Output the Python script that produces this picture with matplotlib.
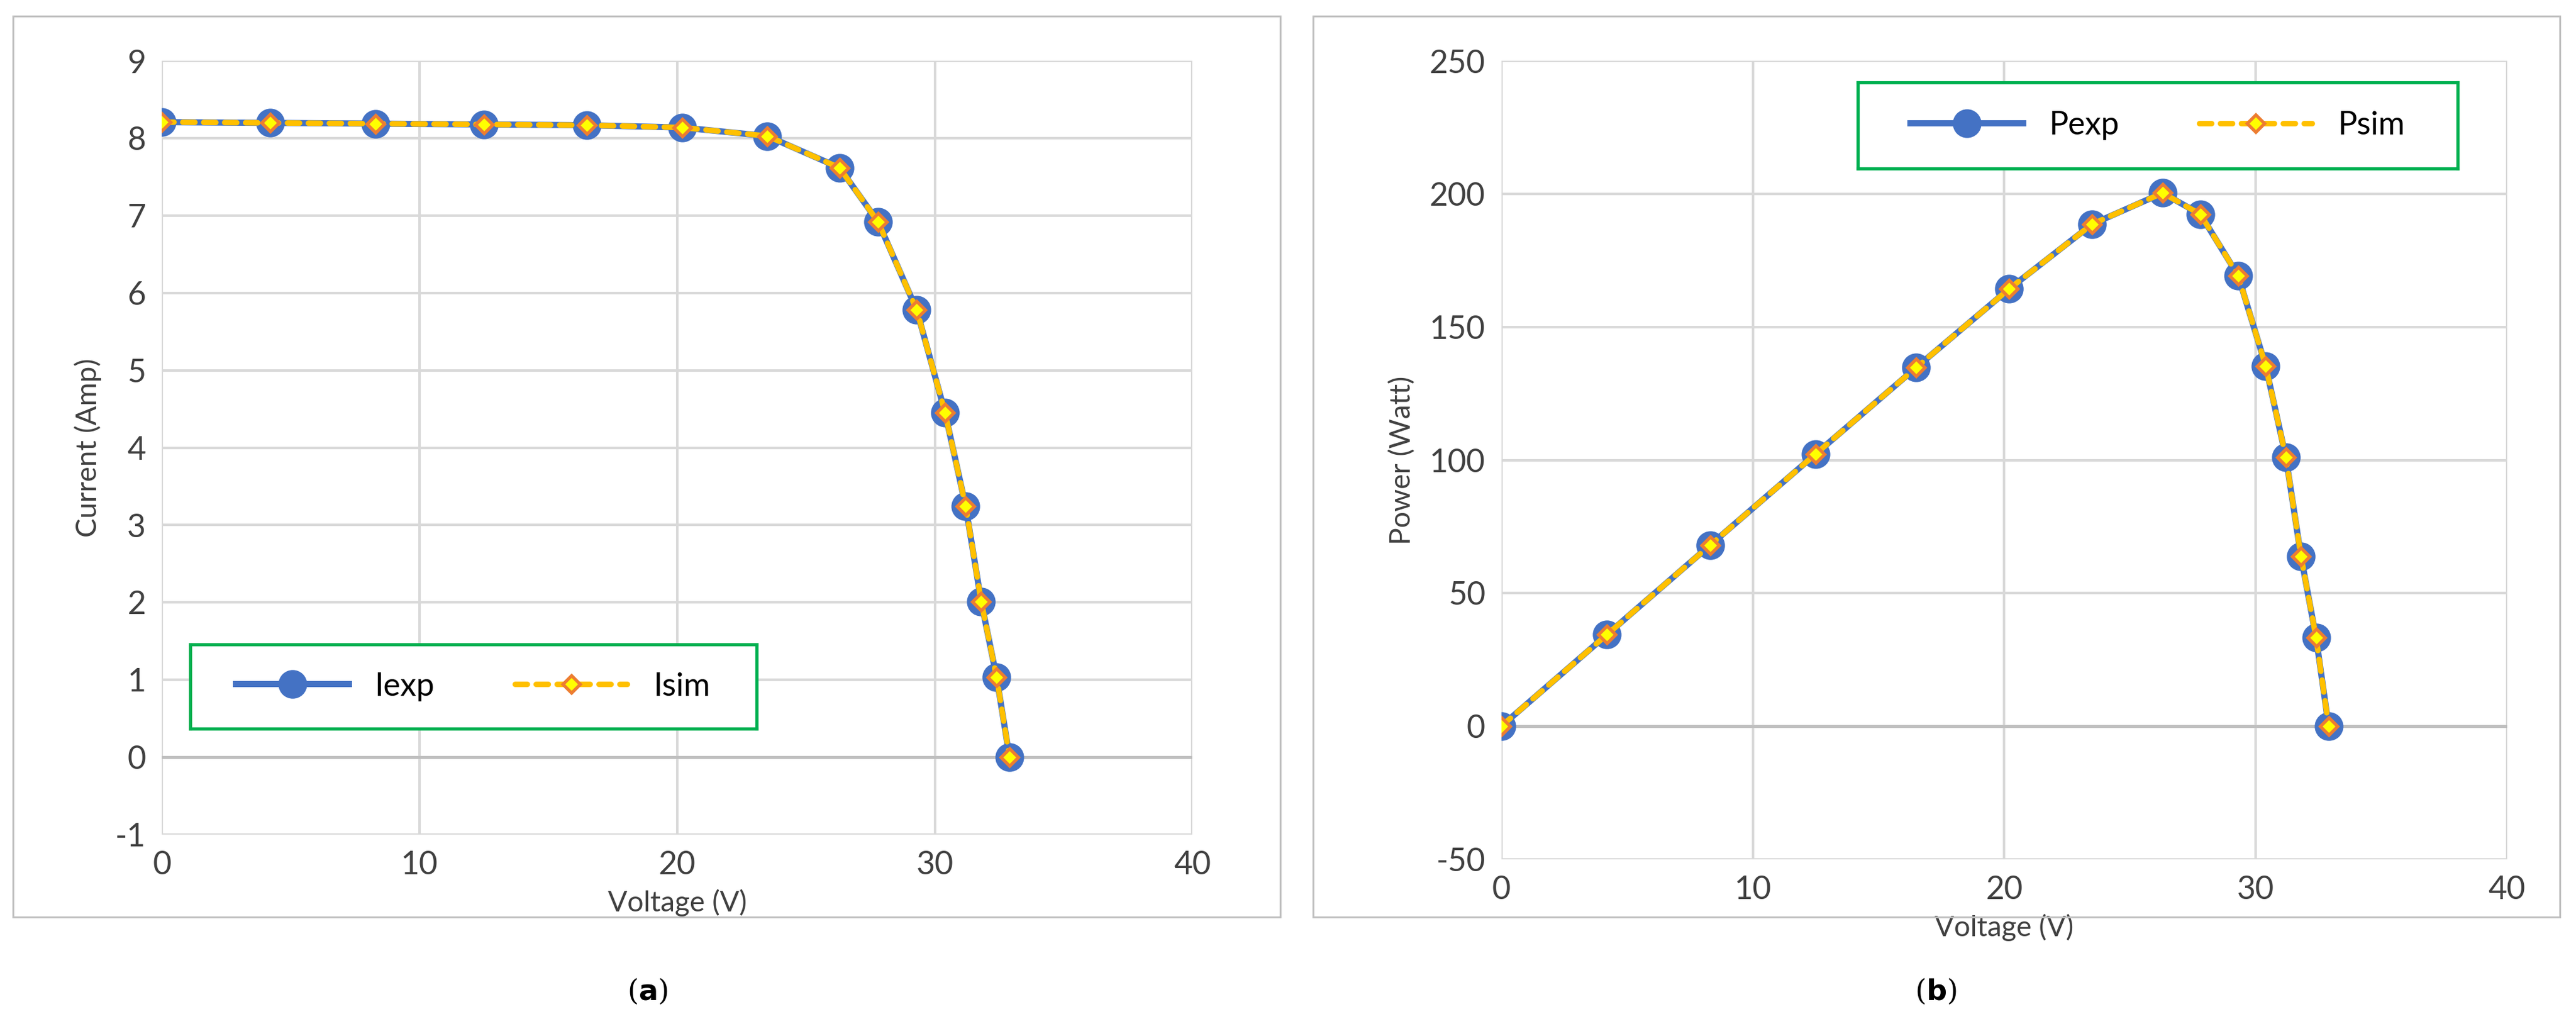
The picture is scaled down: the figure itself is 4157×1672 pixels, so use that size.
import matplotlib
matplotlib.use("Agg")
import matplotlib.pyplot as plt
from matplotlib.patches import Rectangle

voltage = [0, 4.2, 8.3, 12.5, 16.5, 20.2, 23.5, 26.3, 27.8, 29.3, 30.4, 31.2, 31.8, 32.4, 32.9]
i_exp = [8.21, 8.20, 8.19, 8.18, 8.17, 8.14, 8.03, 7.62, 6.92, 5.78, 4.45, 3.24, 2.01, 1.03, 0.0]
i_sim = [8.21, 8.20, 8.19, 8.18, 8.17, 8.14, 8.03, 7.62, 6.92, 5.78, 4.45, 3.24, 2.01, 1.03, 0.0]
p_exp = [0, 34.4, 68.0, 102.3, 134.8, 164.4, 188.7, 200.4, 192.4, 169.4, 135.3, 101.1, 63.9, 33.4, 0]
p_sim = [0, 34.4, 68.0, 102.3, 134.8, 164.4, 188.7, 200.4, 192.4, 169.4, 135.3, 101.1, 63.9, 33.4, 0]

plt.rcParams['font.family'] = ['Lato', 'DejaVu Sans']
plt.rcParams['axes.unicode_minus'] = False
W, H = 1560, 627
fig = plt.figure(figsize=(15.59, 6.27), dpi=266.7)

BLUE = '#4472C4'; YEL = '#FFC000'; ORA = '#ED7D31'

def panel(rect, box, y1, y2, ylim, yticks, ylabel, names, leg_rect, tag, tagx):
    fig.patches.append(Rectangle((box[0], box[1]), box[2], box[3], transform=fig.transFigure,
                                 fill=False, edgecolor='#BFBFBF', lw=0.8))
    ax = fig.add_axes(rect)
    ax.plot(voltage, y1, color=BLUE, lw=2.7, marker='o', ms=11.5, label=names[0], zorder=3)
    ax.plot(voltage, y2, color=YEL, lw=2.4, ls=(0, (2.2, 1.6)), dash_capstyle='round',
            marker='D', ms=5.5, mfc='#FFFF00', mec=ORA, mew=1.4, label=names[1], zorder=4)
    ax.set_xlim(0, 40); ax.set_ylim(*ylim)
    ax.set_xticks([0, 10, 20, 30, 40]); ax.set_yticks(yticks)
    ax.grid(True, color='#D9D9D9', lw=1.1)
    ax.set_axisbelow(True)
    for s in ax.spines.values():
        s.set_visible(False)
    ax.axhline(0, color='#BFBFBF', lw=1.3, zorder=1)
    ax.tick_params(length=0, labelsize=14, colors='#404040', pad=7)
    ax.set_xlabel('Voltage (V)', fontsize=12.5, color='#404040', labelpad=4)
    ax.set_ylabel(ylabel, fontsize=12.5, color='#404040', labelpad=6)
    lax = fig.add_axes(leg_rect)
    lax.set_xticks([]); lax.set_yticks([])
    for s in lax.spines.values():
        s.set_color('#00B050'); s.set_linewidth(1.4)
    lax.legend(*ax.get_legend_handles_labels(), loc='center', ncol=2, frameon=False,
               fontsize=14, handlelength=3.5, columnspacing=2.5)
    fig.text(tagx, 0.035, tag, ha='center', fontsize=12.5, fontfamily='DejaVu Serif')
    return ax

panel([98/W, 1-505/H, 624/W, 468/H], (8/W, 1-555/H, 767/W, 545/H), i_exp, i_sim, (-1, 9),
      list(range(-1, 10)), 'Current (Amp)', ['Iexp', 'Isim'],
      [115/W, 1-441/H, 343/W, 51/H], r'($\mathbf{a}$)', 392/W)
panel([909/W, 1-520/H, 609/W, 483/H], (795/W, 1-555/H, 755/W, 545/H), p_exp, p_sim, (-50, 250),
      list(range(-50, 251, 50)), 'Power (Watt)', ['Pexp', 'Psim'],
      [1125/W, 1-102/H, 363/W, 52/H], r'($\mathbf{b}$)', 1172/W)

fig.savefig('out.png', dpi=266.7, facecolor='white')
